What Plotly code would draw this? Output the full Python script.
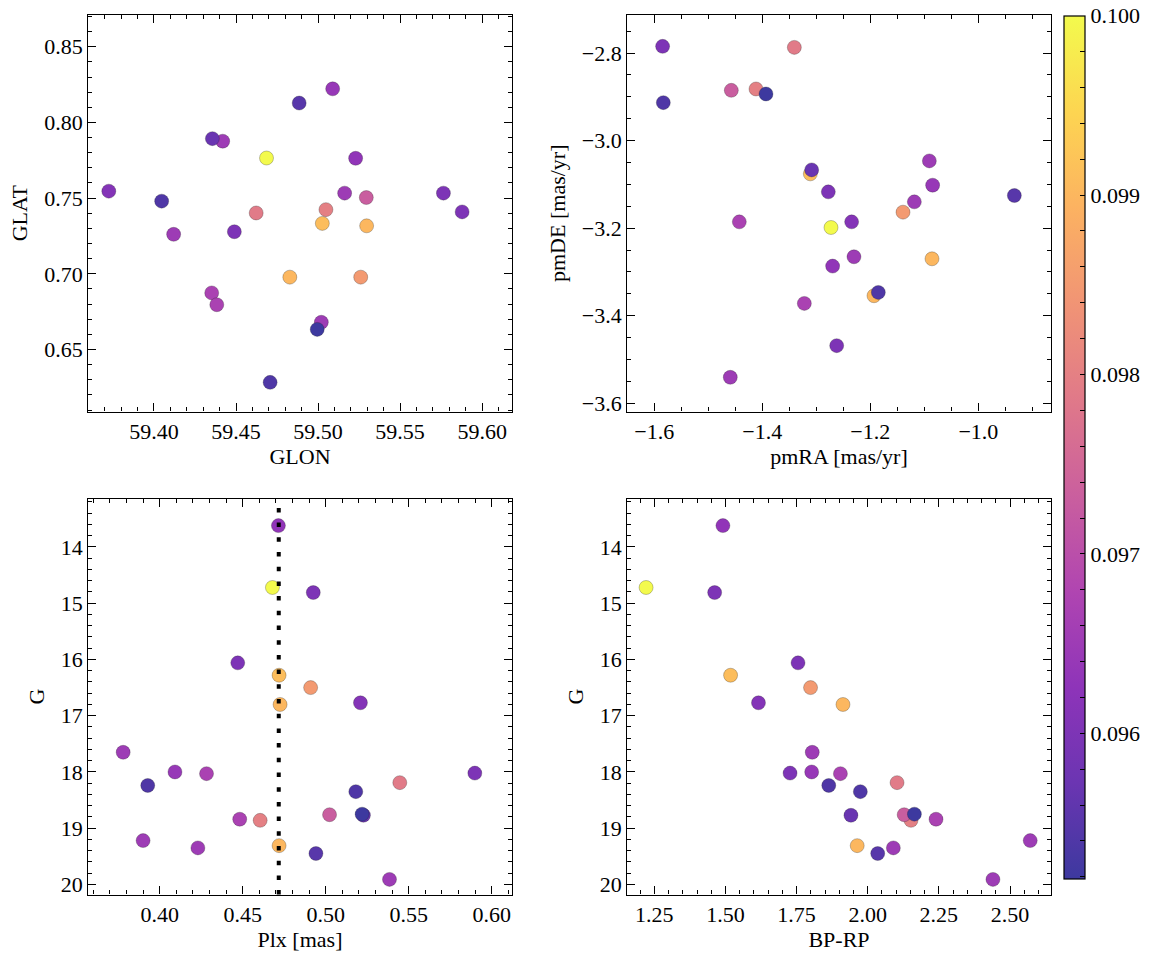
import plotly.graph_objects as go
import plotly.express as px

# ---------------- data (one entry per star) ----------------
glon = [59.5229, 59.4686, 59.4490, 59.5878, 59.5026, 59.5260, 59.5296, 59.3725, 59.5162, 59.5089,
        59.4352, 59.4047, 59.5764, 59.4623, 59.4708, 59.4383, 59.5048, 59.5294, 59.4995, 59.4356,
        59.4120, 59.4419, 59.4828, 59.4885, 59.5020]
glat = [0.7763, 0.7765, 0.7278, 0.7409, 0.7333, 0.6978, 0.7317, 0.7546, 0.7533, 0.8222,
        0.6874, 0.7480, 0.7533, 0.7402, 0.6283, 0.6796, 0.7424, 0.7504, 0.6633, 0.7893,
        0.7261, 0.7876, 0.6978, 0.8128, 0.6680]
pmra = [-1.2698, -1.2728, -1.5846, -1.2778, -1.3111, -1.1395, -1.0858, -1.2346, -1.0907, -1.0846,
        -1.4426, -1.1852, -1.2623, -1.3407, -1.5833, -1.3222, -1.4117, -1.4574, -1.3932, -1.3086,
        -1.1185, -1.2303, -1.1932, -0.9333, -1.4593]
pmde = [-3.2867, -3.1985, -2.7848, -3.1171, -3.0760, -3.1635, -3.2700, -3.1856, -3.0464, -3.1019,
        -3.1856, -3.3468, -3.4684, -2.7871, -2.9133, -3.3719, -2.8821, -2.8852, -2.8935, -3.0669,
        -3.1399, -3.2654, -3.3544, -3.1255, -3.5407]
plx = [0.4715, 0.4679, 0.4925, 0.4470, 0.4719, 0.4909, 0.4725, 0.5209, 0.3780, 0.4092,
       0.4282, 0.3928, 0.5898, 0.5446, 0.5181, 0.4482, 0.4605, 0.5023, 0.5219, 0.5227,
       0.3900, 0.4230, 0.4719, 0.4941, 0.5384]
gmag = [13.62, 14.72, 14.81, 16.06, 16.28, 16.50, 16.80, 16.77, 17.65, 18.00,
        18.03, 18.24, 18.02, 18.19, 18.35, 18.84, 18.86, 18.76, 18.75, 18.77,
        19.22, 19.35, 19.31, 19.45, 19.91]
bprp = [1.491, 1.221, 1.462, 1.755, 1.518, 1.799, 1.913, 1.616, 1.805, 1.803,
        1.904, 1.863, 1.727, 2.103, 1.974, 2.240, 2.152, 2.128, 2.164, 1.941,
        2.571, 2.090, 1.963, 2.035, 2.440]
cval = [0.0963, 0.1000, 0.0960, 0.0960, 0.0991, 0.0985, 0.0990, 0.0961, 0.0965, 0.0964,
        0.0967, 0.0954, 0.0960, 0.0979, 0.0954, 0.0967, 0.0980, 0.0973, 0.09519, 0.0957,
        0.0965, 0.0965, 0.0990, 0.0955, 0.0965]
plx_ref = 0.4717

cbar_major = [0.096, 0.097, 0.098, 0.099, 0.100]

# ---------------- styling ----------------
W, H = 1155, 965
FONT = dict(family="Liberation Serif", size=22, color="black")

# draw in descending colour order (lower values on top)
order = sorted(range(len(cval)), key=lambda i: -cval[i])
def sel(a):
    return [a[i] for i in order]

def blend(hexcol, a=0.8):
    h = hexcol.lstrip('#')
    r, g, b = int(h[0:2], 16), int(h[2:4], 16), int(h[4:6], 16)
    f = lambda c: round(a * c + (1 - a) * 255)
    return f"rgb({f(r)},{f(g)},{f(b)})"

base = px.colors.sequential.Plasma
cscale = [[i / (len(base) - 1), blend(c)] for i, c in enumerate(base)]

cmin, cmax = min(cval), max(cval)
tv = []
v = 0.0952
while v <= 0.10001:
    tv.append(round(v, 4))
    v += 0.0002
tt = [f"{t:.3f}" if any(abs(t - m) < 1e-7 for m in cbar_major) else "" for t in tv]

marker = dict(size=14, color=sel(cval), coloraxis="coloraxis",
              line=dict(width=0.6, color="rgba(30,30,30,0.45)"))

fig = go.Figure()
panels = [(glon, glat, "x", "y"), (pmra, pmde, "x2", "y2"),
          (plx, gmag, "x3", "y3"), (bprp, gmag, "x4", "y4")]
for xs, ys, xa, ya in panels:
    fig.add_trace(go.Scatter(x=sel(xs), y=sel(ys), mode="markers", marker=marker,
                             xaxis=xa, yaxis=ya, showlegend=False, hoverinfo="skip"))

xl = (88.3 / W, 511.7 / W)
xr = (627.3 / W, 1050.7 / W)
yt = (1 - 413.3 / H, 1 - 15 / H)
yb = (1 - 898.3 / H, 1 - 500.7 / H)

def ax(domain, rng, dtick, mdtick, fmt, title, anchor, standoff):
    return dict(domain=domain, range=rng, dtick=dtick, tick0=0, tickformat=fmt,
                anchor=anchor, showgrid=False, zeroline=False,
                showline=True, linecolor="black", linewidth=1.3, mirror="allticks",
                ticks="inside", ticklen=8, tickwidth=1.1, tickcolor="black",
                minor=dict(ticks="inside", ticklen=4, tickwidth=1, tickcolor="black",
                           dtick=mdtick, tick0=0, showgrid=False),
                tickfont=FONT, title=dict(text=title, font=FONT, standoff=standoff))

fig.update_layout(
    width=W, height=H, margin=dict(l=0, r=0, t=0, b=0),
    paper_bgcolor="white", plot_bgcolor="white", font=FONT,
    xaxis=ax(xl, [59.360, 59.618], 0.05, 0.01, ".2f", "GLON", "y", 5),
    yaxis=ax(yt, [0.609, 0.871], 0.05, 0.01, ".2f", "GLAT", "x", 10),
    xaxis2=ax(xr, [-1.65, -0.866], 0.2, 0.05, ".1f", "pmRA [mas/yr]", "y2", 5),
    yaxis2=ax(yt, [-3.619, -2.713], 0.2, 0.05, ".1f", "pmDE [mas/yr]", "x2", 10),
    xaxis3=ax(xl, [0.357, 0.612], 0.05, 0.01, ".2f", "Plx [mas]", "y3", 5),
    yaxis3=ax(yb, [20.18, 13.14], 1, 0.2, "d", "G", "x3", 10),
    xaxis4=ax(xr, [1.155, 2.643], 0.25, 0.05, ".2f", "BP-RP", "y4", 5),
    yaxis4=ax(yb, [20.18, 13.14], 1, 0.2, "d", "G", "x4", 10),
    coloraxis=dict(colorscale=cscale, cmin=cmin, cmax=cmax,
                   colorbar=dict(x=1064.3 / W, xanchor="left", xref="paper",
                                 y=1 - 882.3 / H, yanchor="bottom", yref="paper",
                                 len=(882.3 - 16) / H, lenmode="fraction",
                                 thickness=21.4, thicknessmode="pixels",
                                 xpad=0, ypad=0, outlinewidth=1.2, outlinecolor="black",
                                 tickmode="array", tickvals=tv, ticktext=tt,
                                 ticks="inside", ticklen=5, tickwidth=1, tickcolor="black",
                                 tickfont=FONT)),
)

fig.add_shape(type="line", xref="x3", yref="y3 domain", x0=plx_ref, x1=plx_ref, y0=0, y1=1,
              line=dict(color="black", width=4, dash="4.5px,10.2px"), layer="above")

fig.write_html("out.html", config={"displayModeBar": False},
               post_script="document.body.style.margin='0';document.body.style.overflow='hidden';")
